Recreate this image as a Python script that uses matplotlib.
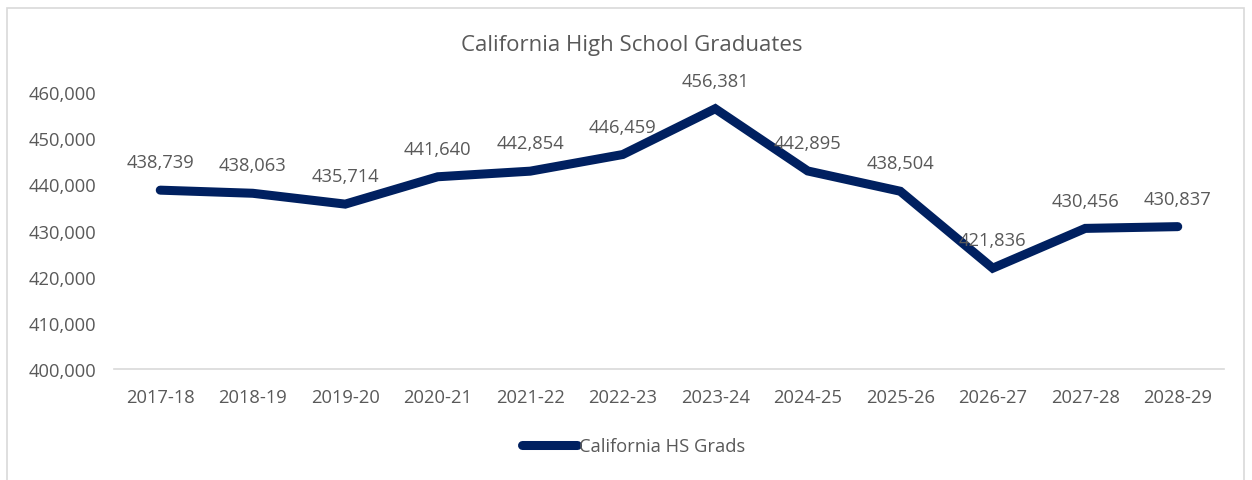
import matplotlib
matplotlib.use("Agg")
import matplotlib.pyplot as plt
from matplotlib.patches import Rectangle
from matplotlib.ticker import FuncFormatter

years = ["2017-18", "2018-19", "2019-20", "2020-21", "2021-22", "2022-23",
         "2023-24", "2024-25", "2025-26", "2026-27", "2027-28", "2028-29"]
grads = [438739, 438063, 435714, 441640, 442854, 446459,
         456381, 442895, 438504, 421836, 430456, 430837]

navy = "#002060"
grey = "#595959"
plt.rcParams['font.family'] = ['Open Sans', 'DejaVu Sans']
fs = 13.2

fig = plt.figure(figsize=(12.52, 4.81), dpi=100)
fig.patches.append(Rectangle((7 / 1252, -0.01), 1237 / 1252, 1 - 9 / 481 + 0.01,
                             transform=fig.transFigure, fill=False,
                             edgecolor="#d9d9d9", linewidth=1.2))

ax = fig.add_axes([114 / 1252, 1 - 370 / 481, 1110 / 1252, 277 / 481])
x = range(len(years))
ax.plot(x, grads, color=navy, linewidth=6.5, solid_capstyle="round",
        solid_joinstyle="miter", label="California HS Grads")

for i, v in zip(x, grads):
    ax.annotate(f"{v:,}", (i, v), xytext=(0, 20), textcoords="offset points",
                ha="center", va="center", fontsize=fs, color=grey)

ax.set_xlim(-0.5, len(years) - 0.5)
ax.set_ylim(400000, 460000)
ax.set_yticks(range(400000, 460001, 10000))
ax.yaxis.set_major_formatter(FuncFormatter(lambda v, p: f"{int(v):,}"))
ax.set_xticks(list(x))
ax.set_xticklabels(years)
ax.tick_params(length=0, labelsize=fs, labelcolor=grey)
ax.tick_params(axis="y", pad=13)
ax.tick_params(axis="x", pad=14)
for s in ["top", "right", "left"]:
    ax.spines[s].set_visible(False)
ax.spines["bottom"].set_color("#d9d9d9")
ax.spines["bottom"].set_linewidth(1.2)

fig.text(632 / 1252, 1 - 46 / 481, "California High School Graduates",
         ha="center", va="center", fontsize=16, color=grey)

leg = fig.legend(loc="center", bbox_to_anchor=(634 / 1252, 1 - 447 / 481),
                 frameon=False, fontsize=fs, handlelength=3.0,
                 handletextpad=0.1, labelcolor=grey)

fig.savefig("out.png", dpi=100)
